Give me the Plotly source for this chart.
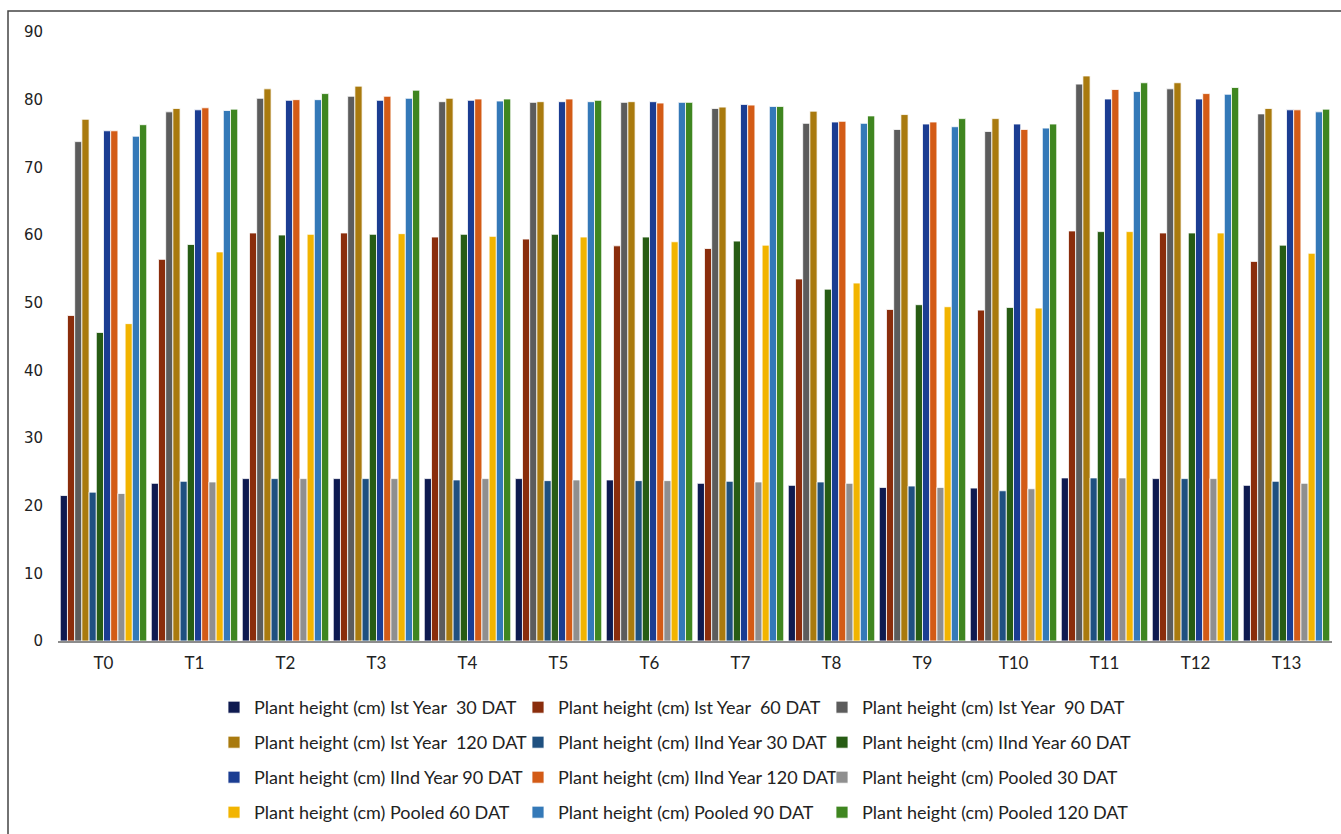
import plotly.graph_objects as go

treatments = ["T0", "T1", "T2", "T3", "T4", "T5", "T6", "T7", "T8", "T9", "T10", "T11", "T12", "T13"]

ist_30 = [21.5, 23.3, 24.0, 24.0, 24.0, 24.0, 23.8, 23.3, 23.0, 22.7, 22.6, 24.1, 24.0, 23.0]
ist_60 = [48.1, 56.4, 60.3, 60.3, 59.7, 59.4, 58.4, 58.0, 53.5, 49.0, 48.9, 60.6, 60.3, 56.1]
ist_90 = [73.8, 78.2, 80.2, 80.5, 79.7, 79.6, 79.6, 78.7, 76.5, 75.6, 75.3, 82.3, 81.6, 77.9]
ist_120 = [77.1, 78.7, 81.6, 82.0, 80.2, 79.7, 79.7, 78.9, 78.3, 77.8, 77.2, 83.5, 82.5, 78.7]
iind_30 = [22.0, 23.6, 24.0, 24.0, 23.8, 23.7, 23.7, 23.6, 23.5, 22.9, 22.2, 24.1, 24.0, 23.6]
iind_60 = [45.6, 58.6, 60.0, 60.1, 60.1, 60.1, 59.7, 59.1, 52.0, 49.7, 49.3, 60.5, 60.3, 58.5]
iind_90 = [75.4, 78.5, 79.9, 79.9, 79.9, 79.7, 79.7, 79.3, 76.7, 76.4, 76.4, 80.1, 80.1, 78.5]
iind_120 = [75.4, 78.8, 80.0, 80.5, 80.1, 80.1, 79.5, 79.2, 76.8, 76.7, 75.6, 81.5, 80.9, 78.5]
pooled_30 = [21.8, 23.5, 24.0, 24.0, 24.0, 23.8, 23.7, 23.5, 23.3, 22.7, 22.5, 24.1, 24.0, 23.3]
pooled_60 = [46.9, 57.5, 60.1, 60.2, 59.8, 59.7, 59.0, 58.5, 52.9, 49.4, 49.2, 60.5, 60.3, 57.3]
pooled_90 = [74.6, 78.4, 80.0, 80.2, 79.8, 79.7, 79.6, 79.0, 76.5, 76.0, 75.8, 81.2, 80.8, 78.2]
pooled_120 = [76.3, 78.6, 80.9, 81.4, 80.1, 79.9, 79.6, 79.0, 77.6, 77.2, 76.4, 82.5, 81.8, 78.6]

series_names = [
    "Plant height (cm) Ist Year  30 DAT",
    "Plant height (cm) Ist Year  60 DAT",
    "Plant height (cm) Ist Year  90 DAT",
    "Plant height (cm) Ist Year  120 DAT",
    "Plant height (cm) IInd Year 30 DAT",
    "Plant height (cm) IInd Year 60 DAT",
    "Plant height (cm) IInd Year 90 DAT",
    "Plant height (cm) IInd Year 120 DAT",
    "Plant height (cm) Pooled 30 DAT",
    "Plant height (cm) Pooled 60 DAT",
    "Plant height (cm) Pooled 90 DAT",
    "Plant height (cm) Pooled 120 DAT",
]
series_values = [ist_30, ist_60, ist_90, ist_120, iind_30, iind_60, iind_90, iind_120,
                 pooled_30, pooled_60, pooled_90, pooled_120]
colors = ["#0e1a50", "#8a2d0c", "#5c5c5c", "#a97a0e", "#1f5080", "#275c14",
          "#1b3d92", "#d35b16", "#8f8f8f", "#f2b400", "#3479b8", "#3f8620"]

text_font = "Lato, 'Liberation Sans', sans-serif"

W, H = 1341, 834
ml, mr, mt, mb = 58, 9, 32, 193
pw, ph = W - ml - mr, H - mt - mb
plot_bottom = mt + ph

# one legend box per entry, arranged in a 3-column grid under the axis
col_left = [214, 518, 822]
row_top = [689, 724, 759, 794]

legend_style = dict(
    orientation="v", xanchor="left", yanchor="top",
    bgcolor="rgba(0,0,0,0)", borderwidth=0,
    font=dict(size=18, color="#222222", family=text_font),
    itemwidth=30, itemclick=False, itemdoubleclick=False,
)

fig = go.Figure()
legend_layout = {}
for i, (name, vals, col) in enumerate(zip(series_names, series_values, colors)):
    lid = "legend" if i == 0 else f"legend{i + 1}"
    fig.add_trace(go.Bar(
        x=treatments, y=vals, name=name, legend=lid, showlegend=True,
        marker=dict(color=col, line=dict(color="white", width=0.8)),
    ))
    r, c = divmod(i, 3)
    legend_layout[lid] = dict(legend_style,
                              x=(col_left[c] - ml) / pw,
                              y=(plot_bottom - row_top[r]) / ph)

fig.update_layout(
    width=W, height=H,
    margin=dict(l=ml, r=mr, t=mt, b=mb, autoexpand=False),
    showlegend=True,
    paper_bgcolor="white", plot_bgcolor="white",
    barmode="group", bargap=0.05, bargroupgap=0.0,
    font=dict(family=text_font, size=16, color="#222222"),
    xaxis=dict(showline=True, linecolor="#8c8c8c", linewidth=1.5, ticks="",
               tickfont=dict(size=17, color="#222222", family=text_font), showgrid=False,
               ticklabelstandoff=6),
    yaxis=dict(range=[0, 90], dtick=10, showgrid=False, showline=False, zeroline=False,
               ticks="", tickfont=dict(size=15, color="#222222",
                                       family="Verdana, 'DejaVu Sans', sans-serif"),
               ticklabelstandoff=14),
    shapes=[dict(type="rect", xref="paper", yref="paper",
                 x0=(8 - ml) / pw, x1=(W + 20 - ml) / pw,
                 y0=-(H + 20 - plot_bottom) / ph, y1=(plot_bottom - 11) / ph,
                 line=dict(color="#444444", width=1.5), fillcolor="rgba(0,0,0,0)",
                 layer="below")],
    **legend_layout,
)

fig.write_html("out.html")
